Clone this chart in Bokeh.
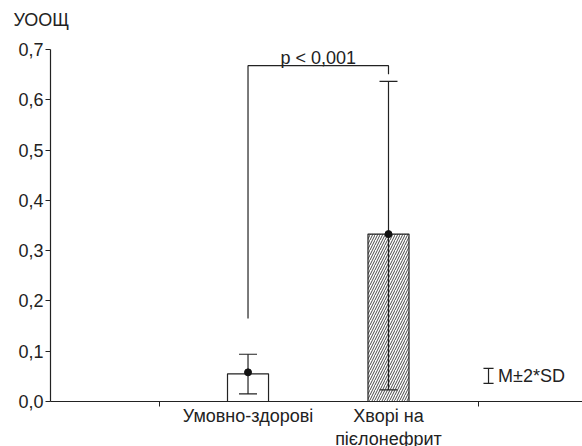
from bokeh.plotting import figure
from bokeh.models import Range1d, FixedTicker, ColumnDataSource
from bokeh.core.properties import value
from bokeh.embed import file_html
from bokeh.resources import INLINE

# ---- data ----
categories = ["Умовно-здорові", "Хворі на\nпієлонефрит"]
cat_pos = [1, 2]
bar_values = [0.055, 0.333]
mean_values = [0.058, 0.333]
lower_values = [0.015, 0.023]
upper_values = [0.094, 0.637]
y_ticks = [0.0, 0.1, 0.2, 0.3, 0.4, 0.5, 0.6, 0.7]
y_tick_labels = ["0,0", "0,1", "0,2", "0,3", "0,4", "0,5", "0,6", "0,7"]
boundary_ticks = [0.37, 2.64]
p_text = "p < 0,001"
bracket_bottom = 0.165
bracket_top = 0.668
bracket_right_end = 0.651
y_title = "УООЩ"
legend_text = "M±2*SD"

FONT = "Liberation Sans"
FS = "18px"
INK = "#222222"

p = figure(frame_width=532, frame_height=372,
           x_range=Range1d(-0.406, 3.381), y_range=Range1d(0, 0.74),
           output_backend="svg", toolbar_location=None,
           min_border_left=50, min_border_right=0, min_border_top=29, min_border_bottom=44)
p.outline_line_color = None
p.xgrid.visible = False
p.ygrid.visible = False
p.background_fill_color = "white"

# y title as plot title
p.title.text = y_title
p.title.align = "left"
p.title.offset = -37
p.title.standoff = 0
p.title.text_font = FONT
p.title.text_font_size = FS
p.title.text_font_style = "normal"
p.title.text_color = INK

# y axis
ya = p.yaxis[0]
ya.ticker = FixedTicker(ticks=y_ticks)
ya.major_label_overrides = {t: l for t, l in zip(y_ticks, y_tick_labels)}
ya.bounds = (0, 0.7)
ya.major_tick_out = 5
ya.major_tick_in = 0
ya.minor_tick_line_color = None
ya.major_label_standoff = 2
ya.major_label_text_font = FONT
ya.major_label_text_font_size = FS
ya.major_label_text_color = INK
ya.axis_line_color = INK
ya.major_tick_line_color = INK
ya.axis_line_width = 1.2

# x axis
xa = p.xaxis[0]
xa.ticker = FixedTicker(ticks=cat_pos, minor_ticks=boundary_ticks)
xa.major_label_overrides = {c: l for c, l in zip(cat_pos, categories)}
xa.major_tick_line_color = None
xa.major_tick_out = 0
xa.major_tick_in = 0
xa.minor_tick_out = 5
xa.minor_tick_in = 0
xa.minor_tick_line_color = INK
xa.major_label_standoff = -1
xa.major_label_text_font = FONT
xa.major_label_text_font_size = FS
xa.major_label_text_line_height = 1.15
xa.major_label_text_color = INK
xa.axis_line_color = INK
xa.axis_line_width = 1.2

# bars
src = ColumnDataSource(dict(x=cat_pos, top=bar_values, mean=mean_values,
                            lo=lower_values, hi=upper_values))
bar_w = 0.292
p.vbar(x=[cat_pos[0]], top=[bar_values[0]], width=bar_w, fill_color="white",
       line_color=INK, line_width=1.2)
p.vbar(x=[cat_pos[1]], top=[bar_values[1]], width=bar_w, fill_color="white",
       line_color=INK, line_width=1.2, hatch_pattern="/", hatch_scale=5,
       hatch_weight=0.9, hatch_color="#333333")

# error bars
cap = 0.064
p.segment(x0="x", y0="lo", x1="x", y1="hi", source=src, line_color=INK, line_width=1.2)
p.segment(x0=[x - cap for x in cat_pos], y0=upper_values,
          x1=[x + cap for x in cat_pos], y1=upper_values, line_color=INK, line_width=1.2)
p.segment(x0=[x - cap for x in cat_pos], y0=lower_values,
          x1=[x + cap for x in cat_pos], y1=lower_values, line_color=INK, line_width=1.2)
p.scatter(x="x", y="mean", source=src, size=7, fill_color="#111111", line_color="#111111")

# significance bracket
p.line(x=[cat_pos[0], cat_pos[0], cat_pos[1], cat_pos[1]],
       y=[bracket_bottom, bracket_top, bracket_top, bracket_right_end],
       line_color=INK, line_width=1.2)
p.text(x=[(cat_pos[0] + cat_pos[1]) / 2], y=[0.684], text=[p_text],
       text_font=value(FONT), text_font_size=FS, text_color=INK,
       text_align="center", text_baseline="alphabetic")

# legend (M ± 2*SD)
lx = 2.712
lc = 0.036
p.segment(x0=[lx], y0=[0.036], x1=[lx], y1=[0.066], line_color=INK, line_width=1.2)
p.segment(x0=[lx - lc, lx - lc], y0=[0.036, 0.066], x1=[lx + lc, lx + lc], y1=[0.036, 0.066],
          line_color=INK, line_width=1.2)
p.text(x=[2.78], y=[0.051], text=[legend_text], text_font=value(FONT),
       text_font_size=FS, text_color=INK, text_align="left", text_baseline="middle")

open("out.html", "w").write(file_html(p, INLINE))
